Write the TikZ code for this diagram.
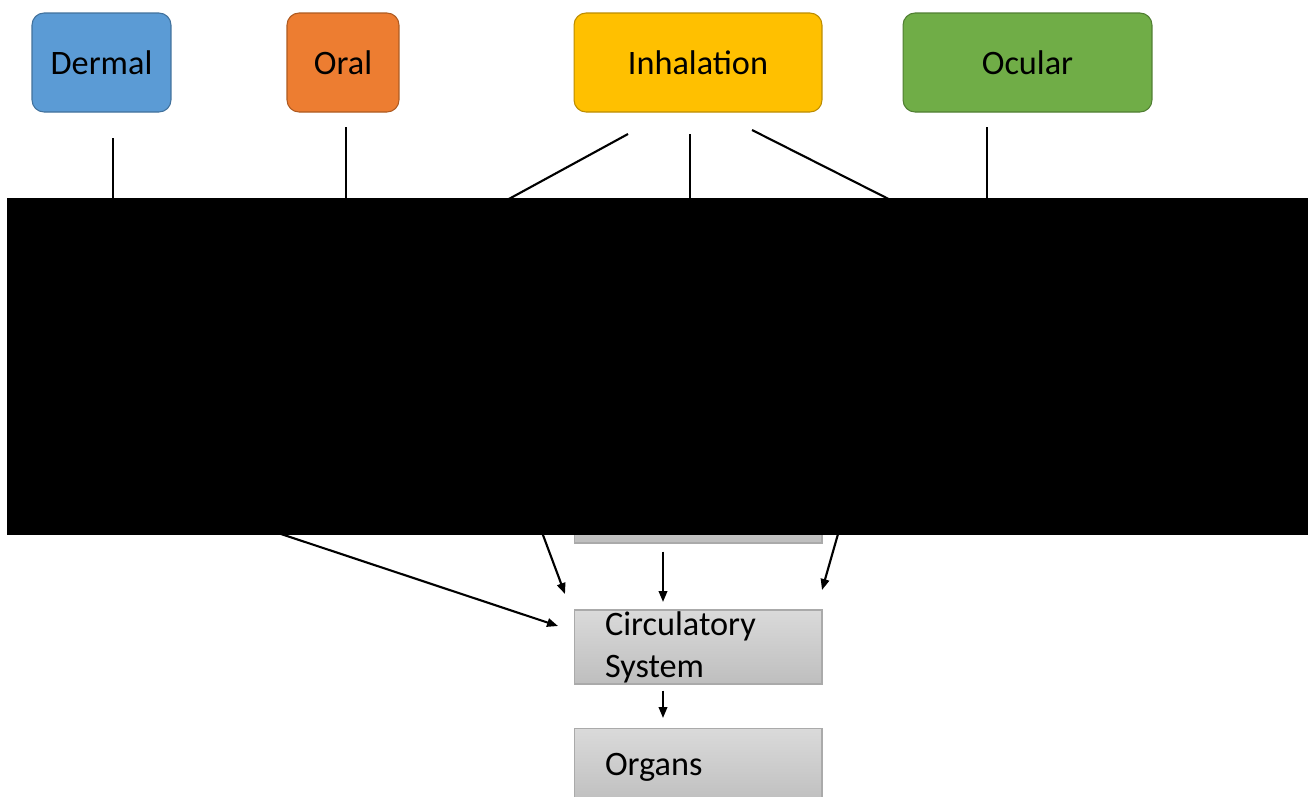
\documentclass[tikz,border=0pt]{standalone}
\usepackage{fontspec}
\setmainfont{Carlito}
\usepackage{xcolor}
\usetikzlibrary{arrows.meta, positioning, calc}
\definecolor{DermalBlue}{RGB}{91, 155, 213}
\definecolor{DermalEdge}{RGB}{65, 113, 156}
\definecolor{OralOrange}{RGB}{237, 125, 49}
\definecolor{OralEdge}{RGB}{174, 90, 33}
\definecolor{InhaleGold}{RGB}{255, 192, 0}
\definecolor{InhaleEdge}{RGB}{188, 140, 0}
\definecolor{OcularGreen}{RGB}{112, 173, 71}
\definecolor{OcularEdge}{RGB}{80, 126, 50}
\definecolor{BoxTop}{RGB}{218, 218, 218}
\definecolor{BoxBottom}{RGB}{190, 190, 190}
\definecolor{BoxEdge}{RGB}{170, 170, 170}

\begin{document}
\begin{tikzpicture}[
    x=0.02cm, y=-0.02cm,
    routeBox/.style={
      rounded corners=0.24cm,
      minimum height=1.98cm,
      line width=0.6pt,
      inner sep=0pt,
      font=\fontsize{19.5pt}{24pt}\selectfont
    },
    organBox/.style={
      draw=BoxEdge,
      top color=BoxTop,
      bottom color=BoxBottom,
      minimum width=4.96cm,
      text width=3.72cm,
      align=left,
      inner xsep=0.62cm,
      inner ysep=0pt,
      line width=0.6pt,
      font=\fontsize{19.5pt}{24pt}\selectfont
    },
    link/.style={line width=1.2pt},
    flow/.style={line width=1.2pt, -{Triangle[length=0.22cm, width=0.17cm]}}
  ]
    \useasboundingbox (0,0) rectangle (1314,796);

    % exposure routes
    \node[routeBox, fill=DermalBlue, draw=DermalEdge, minimum width=2.78cm]
      (dermal) at (101.5,62.5) {Dermal};
    \node[routeBox, fill=OralOrange, draw=OralEdge, minimum width=2.24cm]
      (oral) at (343,62.5) {Oral};
    \node[routeBox, fill=InhaleGold, draw=InhaleEdge, minimum width=4.96cm]
      (inhale) at (698,62.5) {Inhalation};
    \node[routeBox, fill=OcularGreen, draw=OcularEdge, minimum width=4.98cm]
      (ocular) at (1027.5,62.5) {Ocular};

    % free ends of the connectors
    \coordinate (dermalIn) at (113,138);
    \coordinate (dermalOut) at (113,230);
    \coordinate (oralIn) at (346,127);
    \coordinate (oralOut) at (346,230);
    \coordinate (inhaleLeftIn) at (628,134);
    \coordinate (inhaleLeftOut) at (452,230);
    \coordinate (inhaleMidIn) at (690,134);
    \coordinate (inhaleMidOut) at (690,230);
    \coordinate (inhaleRightIn) at (752,130);
    \coordinate (inhaleRightOut) at (950,230);
    \coordinate (ocularIn) at (987,127);
    \coordinate (ocularOut) at (987,230);

    \draw[link] (dermalIn) -- (dermalOut);
    \draw[link] (oralIn) -- (oralOut);
    \draw[link] (inhaleLeftIn) -- (inhaleLeftOut);
    \draw[link] (inhaleMidIn) -- (inhaleMidOut);
    \draw[link] (inhaleRightIn) -- (inhaleRightOut);
    \draw[link] (ocularIn) -- (ocularOut);

    % body compartments
    \node[organBox, minimum height=1.26cm] (tract) at (698,511.5)
      {\hspace{0.5cm}\raisebox{-0.36cm}{Tract}};
    \node[organBox, minimum height=1.48cm] (circ) at (698,647) {Circulatory\\System};
    \node[organBox, minimum height=1.54cm] (organs) at (698,767) {Organs};

    \coordinate (skinFrom) at (266,529);
    \coordinate (skinTo) at (558,626);
    \coordinate (leftFrom) at (540,527);
    \coordinate (leftTo) at (565,594);
    \coordinate (tractTo) at (663,602);
    \coordinate (rightFrom) at (840,527);
    \coordinate (rightTo) at (822,590);

    \draw[flow] (skinFrom) -- (skinTo);
    \draw[flow] (leftFrom) -- (leftTo);
    \draw[flow] (tract.south -| tractTo) ++(0,8) -- (tractTo);
    \draw[flow] (rightFrom) -- (rightTo);
    \draw[flow] ($(circ.south -| tractTo)+(0,6)$) -- (663,718);

    % redacted area
    \fill[black] (7,198) rectangle (1308,535);
\end{tikzpicture}
\end{document}
